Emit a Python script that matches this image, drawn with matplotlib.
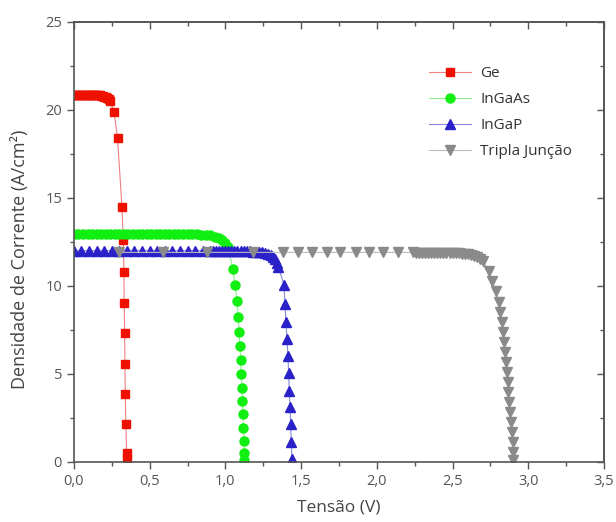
import matplotlib
matplotlib.use("Agg")
import matplotlib.pyplot as plt
from matplotlib.ticker import MultipleLocator, FuncFormatter

plt.rcParams['font.family'] = ['Open Sans', 'DejaVu Sans']

# ---- data ----
ge_v = [0.00, 0.01, 0.02, 0.03, 0.04, 0.05, 0.06, 0.07, 0.08, 0.09, 0.10, 0.11,
        0.12, 0.13, 0.14, 0.15, 0.16, 0.17, 0.18, 0.19, 0.20, 0.21, 0.22, 0.23,
        0.238, 0.264, 0.288, 0.317, 0.326, 0.330, 0.332, 0.335, 0.337, 0.339,
        0.343, 0.348, 0.349]
ge_j = [20.85, 20.85, 20.85, 20.85, 20.85, 20.85, 20.85, 20.85, 20.85, 20.85, 20.85, 20.85,
        20.85, 20.85, 20.85, 20.84, 20.83, 20.82, 20.80, 20.78, 20.75, 20.72, 20.68, 20.62,
        20.50, 19.90, 18.42, 14.50, 12.60, 10.80, 9.04, 7.33, 5.57, 3.87,
        2.16, 0.48, 0.13]

ingaas_v = [0.00, 0.03, 0.06, 0.09, 0.12, 0.15, 0.18, 0.21, 0.24, 0.27, 0.30, 0.33,
            0.36, 0.39, 0.42, 0.45, 0.48, 0.51, 0.54, 0.57, 0.60, 0.63, 0.66, 0.69,
            0.72, 0.75, 0.78, 0.81, 0.84, 0.87, 0.90, 0.93, 0.955, 0.975, 0.995, 1.015,
            1.050, 1.065, 1.078, 1.085, 1.090, 1.096, 1.101, 1.104, 1.110, 1.112,
            1.116, 1.119, 1.123, 1.125, 1.126]
ingaas_j = [12.94, 12.94, 12.94, 12.94, 12.94, 12.94, 12.94, 12.94, 12.94, 12.94, 12.94, 12.94,
            12.94, 12.94, 12.94, 12.94, 12.94, 12.94, 12.94, 12.94, 12.94, 12.94, 12.94, 12.94,
            12.94, 12.93, 12.93, 12.92, 12.91, 12.89, 12.86, 12.80, 12.70, 12.58, 12.42, 12.20,
            10.98, 10.04, 9.12, 8.25, 7.39, 6.58, 5.78, 4.99, 4.19, 3.45,
            2.69, 1.93, 1.19, 0.48, 0.10]

ingap_v = [0.00, 0.05, 0.10, 0.15, 0.20, 0.25, 0.30, 0.35, 0.40, 0.45, 0.50, 0.55,
           0.60, 0.65, 0.70, 0.75, 0.80, 0.85, 0.90, 0.92, 0.94, 0.96, 0.98, 1.00,
           1.02, 1.04, 1.06, 1.08, 1.10, 1.12, 1.14, 1.16, 1.18, 1.20, 1.22, 1.24,
           1.26, 1.28, 1.30, 1.315, 1.33, 1.342, 1.35, 1.387, 1.394, 1.400, 1.407,
           1.413, 1.418, 1.422, 1.427, 1.431, 1.435, 1.440]
ingap_j = [12.00, 12.00, 12.00, 12.00, 12.00, 12.00, 12.00, 12.00, 12.00, 12.00, 12.00, 12.00,
           12.00, 12.00, 12.00, 12.00, 12.00, 12.00, 11.99, 11.99, 11.99, 11.99, 11.99, 11.99,
           11.98, 11.98, 11.98, 11.97, 11.97, 11.96, 11.96, 11.95, 11.94, 11.93, 11.92, 11.90,
           11.87, 11.83, 11.76, 11.66, 11.50, 11.30, 11.09, 10.05, 8.95, 7.94, 6.96,
           6.01, 5.03, 4.04, 3.09, 2.12, 1.14, 0.14]

tripla_v = [0.30, 0.59, 0.88, 1.18, 1.38, 1.48, 1.57, 1.67, 1.76, 1.86, 1.95, 2.04,
            2.14, 2.24, 2.26, 2.28, 2.30, 2.32, 2.34, 2.36, 2.38, 2.40, 2.42, 2.44,
            2.46, 2.48, 2.50, 2.52, 2.54, 2.56, 2.58, 2.60, 2.62, 2.64, 2.66, 2.68,
            2.70, 2.74, 2.763, 2.785, 2.805, 2.815, 2.825, 2.836, 2.842, 2.849, 2.853,
            2.858, 2.864, 2.869, 2.875, 2.880, 2.884, 2.890, 2.897, 2.901, 2.902]
tripla_j = [11.90, 11.90, 11.90, 11.90, 11.90, 11.90, 11.90, 11.90, 11.90, 11.90, 11.90, 11.90,
            11.90, 11.90, 11.89, 11.89, 11.89, 11.89, 11.89, 11.88, 11.88, 11.88, 11.87, 11.87,
            11.87, 11.86, 11.86, 11.85, 11.84, 11.83, 11.82, 11.80, 11.77, 11.72, 11.65, 11.55,
            11.40, 10.85, 10.25, 9.68, 9.10, 8.53, 7.96, 7.39, 6.82, 6.25, 5.69,
            5.12, 4.55, 3.98, 3.41, 2.84, 2.27, 1.71, 1.14, 0.57, 0.10]

labels = ["Ge", "InGaAs", "InGaP", "Tripla Junção"]
x_ticks = [0.0, 0.5, 1.0, 1.5, 2.0, 2.5, 3.0, 3.5]
y_ticks = [0, 5, 10, 15, 20, 25]

# ---- figure ----
fig = plt.figure(figsize=(6.16, 5.22), dpi=100)
ax = fig.add_axes([0.120, 0.1155, 0.8605, 0.8425])

axis_grey = "#555555"
ax.plot(ge_v, ge_j, color="#f08080", lw=0.8, marker="s", ms=5.8,
        mfc="#ee1100", mec="#ee1100", label=labels[0])
ax.plot(ingaas_v, ingaas_j, color="#90ee90", lw=0.8, marker="o", ms=6.5,
        mfc="#11ee11", mec="#11ee11", label=labels[1])
ax.plot(ingap_v, ingap_j, color="#8888dd", lw=0.8, marker="^", ms=6.5,
        mfc="#2a22c8", mec="#2a22c8", label=labels[2])
ax.plot(tripla_v, tripla_j, color="#bbbbbb", lw=0.8, marker="v", ms=6.5,
        mfc="#8a8a8a", mec="#8a8a8a", label=labels[3])

ax.set_xlim(0, 3.5)
ax.set_ylim(0, 25)
ax.set_xticks(x_ticks)
ax.set_yticks(y_ticks)
ax.xaxis.set_minor_locator(MultipleLocator(0.25))
ax.yaxis.set_minor_locator(MultipleLocator(2.5))
ax.xaxis.set_major_formatter(FuncFormatter(lambda v, p: f"{v:.1f}".replace(".", ",")))
ax.yaxis.set_major_formatter(FuncFormatter(lambda v, p: f"{v:.0f}"))

for s in ax.spines.values():
    s.set_color(axis_grey)
    s.set_linewidth(1.2)

ax.tick_params(which="both", direction="out", colors=axis_grey, labelcolor=axis_grey,
               labelsize=10.5, width=1.0)
ax.tick_params(which="major", length=5)
ax.tick_params(which="minor", length=3)

# top and right ticks pointing inward
secx = ax.secondary_xaxis("top")
secx.set_xticks(x_ticks)
secx.xaxis.set_minor_locator(MultipleLocator(0.25))
secx.tick_params(which="both", direction="in", labeltop=False, colors=axis_grey, width=1.0)
secx.tick_params(which="major", length=5)
secx.tick_params(which="minor", length=3)
secy = ax.secondary_yaxis("right")
secy.set_yticks(y_ticks)
secy.yaxis.set_minor_locator(MultipleLocator(2.5))
secy.tick_params(which="both", direction="in", labelright=False, colors=axis_grey, width=1.0)
secy.tick_params(which="major", length=5)
secy.tick_params(which="minor", length=3)
for sa in (secx, secy):
    for s in sa.spines.values():
        s.set_color(axis_grey)
        s.set_linewidth(1.2)

ax.set_xlabel("Tensão (V)", fontsize=12.5, color="#444444")
ax.xaxis.set_label_coords(0.5, -0.085)
ax.set_ylabel("Densidade de Corrente (A/cm²)", fontsize=13, color="#444444")
ax.yaxis.set_label_coords(-0.084, 0.46)

leg = ax.legend(loc="upper left", bbox_to_anchor=(0.643, 0.93), frameon=False,
                fontsize=11, handlelength=2.8, labelspacing=0.72, handletextpad=0.6,
                labelcolor="#333333")

fig.savefig("out.png", dpi=100)
